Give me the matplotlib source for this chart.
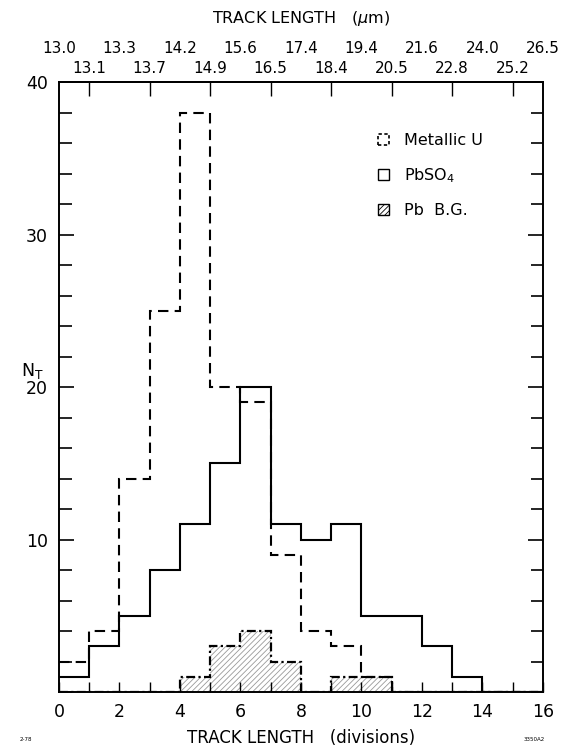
import numpy as np
import matplotlib
matplotlib.use("Agg")
import matplotlib.pyplot as plt
from matplotlib.patches import Patch

plt.rcParams['font.family'] = ['DejaVu Sans']
plt.rcParams['hatch.linewidth'] = 0.6

# ---- data ----
edges = np.arange(0, 17)  # track length in divisions
metallic_u = [2, 4, 14, 25, 38, 20, 19, 9, 4, 3, 1, 0, 0, 0, 0, 0]
pbso4 = [1, 3, 5, 8, 11, 15, 20, 11, 10, 11, 5, 5, 3, 1, 0, 0]
pb_bg = [0, 0, 0, 0, 1, 3, 4, 2, 0, 1, 1, 0, 0, 0, 0, 0]

top_positions = list(range(0, 17))
top_labels = ["13.0", "13.1", "13.3", "13.7", "14.2", "14.9", "15.6", "16.5", "17.4",
              "18.4", "19.4", "20.5", "21.6", "22.8", "24.0", "25.2", "26.5"]
bottom_labels = ["0", "2", "4", "6", "8", "10", "12", "14", "16"]
y_labels = ["10", "20", "30", "40"]

fig = plt.figure(figsize=(5.65, 7.49), dpi=100)
ax = fig.add_axes([0.1044, 0.0761, 0.8566, 0.8144])

# Pb background: hatched fill + dash-dot outline
ax.stairs(pb_bg, edges, fill=True, facecolor='none', edgecolor='#999999',
          hatch='//////', linewidth=0)
ax.stairs(pb_bg, edges, color='black', linewidth=1.6, linestyle=(0, (4, 1.5, 1, 1.5)),
          baseline=None)
# PbSO4 solid
ax.stairs(pbso4, edges, color='black', linewidth=1.5, baseline=None)
# Metallic U dashed
ax.stairs(metallic_u, edges, color='black', linewidth=1.5, linestyle=(0, (5, 3)),
          baseline=None)

ax.set_xlim(0, 16)
ax.set_ylim(0, 40)
for s in ax.spines.values():
    s.set_linewidth(1.4)

# bottom axis
ax.set_xticks(np.arange(0, 17, 2), labels=bottom_labels)
ax.set_xticks(np.arange(1, 16, 2), minor=True)
ax.tick_params(axis='x', which='both', direction='in', length=7, width=1.0,
               labelsize=12.5, pad=8, top=False)
ax.set_xlabel('TRACK LENGTH   (divisions)', fontsize=12, labelpad=6)

# left/right axis
ax.set_yticks([10, 20, 30, 40], labels=y_labels)
ax.set_yticks(np.arange(0, 41, 2), minor=True)
ax.tick_params(axis='y', which='major', direction='in', length=11, width=1.2,
               labelsize=12.5, pad=8, right=True)
ax.tick_params(axis='y', which='minor', direction='in', length=9, width=1.2, right=True)
ax.set_ylabel('N$_\\mathregular{T}$', rotation=0, fontsize=12.5)
ax.yaxis.set_label_coords(-0.055, 0.51)

# top axis (micrometres): odd divisions in the lower row, with ticks
sec_lo = ax.secondary_xaxis('top')
sec_lo.set_xticks(top_positions[1::2], labels=top_labels[1::2])
sec_lo.tick_params(axis='x', direction='in', length=10, width=1.0, labelsize=11, pad=4)
sec_lo.spines['top'].set_linewidth(1.4)

# even divisions in the upper row
sec_hi = ax.secondary_xaxis('top')
sec_hi.set_xticks(top_positions[0::2], labels=top_labels[0::2])
sec_hi.tick_params(axis='x', direction='in', length=0, labelsize=11, pad=18.5)
sec_hi.spines['top'].set_visible(False)
sec_hi.set_xlabel('TRACK LENGTH   ($\\mu$m)', fontsize=11.5, labelpad=13)

# legend
handles = [Patch(facecolor='none', edgecolor='black', linestyle=(0, (2, 1.5)), linewidth=1.2),
           Patch(facecolor='none', edgecolor='black', linewidth=1.0),
           Patch(facecolor='none', edgecolor='black', hatch='//////', linewidth=1.0)]
labels = ['Metallic U', 'PbSO$_4$', 'Pb  B.G.']
ax.legend(handles, labels, loc='upper left', bbox_to_anchor=(0.63, 0.94),
          frameon=False, handlelength=0.7, handleheight=0.7, handletextpad=0.9,
          labelspacing=1.15, fontsize=11.5)

fig.text(0.035, 0.011, '2-78', fontsize=4)
fig.text(0.945, 0.011, '3350A2', fontsize=4, ha='center')

fig.savefig('out.png', dpi=100)
